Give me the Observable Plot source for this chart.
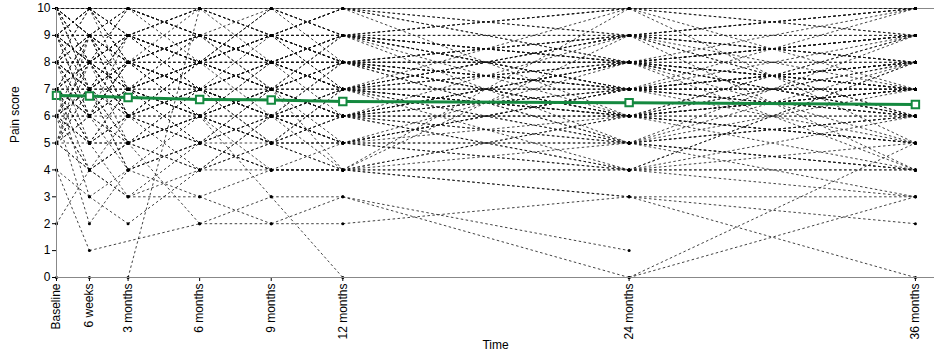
<!DOCTYPE html>
<html><head><meta charset="utf-8">
<script src="https://cdn.jsdelivr.net/npm/d3@7"></script>
<script src="https://cdn.jsdelivr.net/npm/@observablehq/plot@0.6"></script>
<style>body{margin:0;background:#fff;}</style>
</head><body><div id="chart"></div>
<script>
const timeLabels = ["Baseline", "6 weeks", "3 months", "6 months", "9 months", "12 months", "24 months", "36 months"];
const timeMonths = [0, 1.38, 3, 6, 9, 12, 24, 36];
const yTicks = [0, 1, 2, 3, 4, 5, 6, 7, 8, 9, 10];

// individual patient scores, one array per time point (null = missing)
const baseline = [10,10,9,9,8,8,7,7,6,6, 5,5,4,2,10,9,8,7,7,6, 10,8,9,7,6,0,5,9,7,8, 6,5,10,9,8,7,6,10,8,9, 7,6,5,10,9,8,7,6,4,10, 9,8,7,6,5,9,8,7,10,6,
                  9,8,7,6,10,9,8,7,6,5, 10,9,8,7,6,5,10,9,8,7, 8,9,7,6,10,8,7,9,6,5, 10,8,9,7,6,8,10,7,9,8];
const week6    = [9,10,8,10,7,9,6,8,7,5, 4,6,1,4,8,9,10,5,7,8, 7,6,10,3,2,0,9,6,9,8, 7,8,10,7,5,4,6,9,7,8, 8,9,7,10,9,6,7,5,3,9, 8,9,6,8,5,10,8,5,7,4,
                  8,9,6,7,9,7,8,9,5,6, 8,10,7,8,4,7,10,8,6,7, 9,8,5,8,9,10,6,9,7,4, 8,7,10,9,6,8,9,8,6,7];
const month3   = [10,9,7,8,9,8,7,6,8,6, 5,4,null,3,9,7,10,6,8,5, 8,7,9,2,4,0,6,5,9,10, 7,6,8,6,3,5,7,9,8,7, 9,8,7,10,9,6,4,5,4,8, 9,7,8,7,5,10,6,7,9,3,
                  9,8,5,6,10,8,7,8,7,8, 7,9,9,6,5,4,9,10,8,7, 6,8,6,9,7,8,9,8,5,6, 8,5,7,10,8,9,6,7,7,8];
const month6   = [9,10,8,9,8,7,8,7,6,7, 6,5,2,4,10,8,9,5,7,6, 9,6,8,4,3,10,5,7,10,8, 9,4,7,6,5,2,8,8,6,7, 8,7,6,10,9,5,6,7,5,8, 9,6,8,5,4,9,8,7,7,3,
                  8,9,6,8,9,7,6,9,6,7, 8,10,7,7,6,5,8,9,9,6, 7,7,8,8,9,6,8,7,4,6, 10,6,8,9,9,7,7,5,8,8];
const month9   = [10,9,9,8,10,8,7,8,7,6, 5,6,3,5,10,9,8,4,7,7, 9,5,7,5,4,9,6,8,9,7, 8,6,6,7,4,2,9,10,3,6, 8,6,5,9,8,7,7,5,4,8, 9,6,7,5,4,8,9,6,8,2,
                  7,8,7,8,9,6,8,9,5,6, 9,10,8,5,6,7,9,7,9,8, 6,7,7,9,8,7,6,9,6,5, 8,4,9,8,7,8,6,6,10,7];
const month12  = [10,10,9,9,8,8,8,7,7,6, 6,5,3,4,9,8,9,4,7,6, 10,5,8,6,4,8,7,7,9,6, 8,5,7,6,4,3,8,9,0,6, 7,6,7,9,8,8,7,5,4,9, 10,6,8,5,4,8,9,7,7,2,
                  6,9,8,7,8,5,9,7,6,4, 10,9,6,7,5,6,8,9,7,8, 5,6,9,8,7,6,8,10,7,4, 7,5,8,9,5,7,6,8,9,4];
const month24  = [6,9,5,8,8,7,8,7,6,7, 9,5,1,10,10,9,8,3,4,6, 9,4,8,5,4,7,6,7,8,7, 8,8,6,5,4,0,9,9,0,6, 7,7,8,10,8,9,10,5,3,9, 10,6,7,4,9,7,8,8,9,3,
                  8,7,6,9,6,7,10,5,8,6, 8,7,4,9,7,8,6,8,6,5, 7,8,7,6,5,4,9,8,6,5, 8,7,5,7,6,9,8,7,6,6];
const month36  = [9,10,8,4,7,10,6,7,5,6, 4,9,null,7,10,8,9,2,8,5, 8,8,7,6,4,6,7,6,9,8, 7,10,6,4,3,5,10,9,3,6, 7,8,8,9,5,9,5,4,0,10, 10,7,7,4,6,7,8,9,8,3,
                  9,6,7,8,5,8,9,6,7,9, 7,8,6,10,8,6,7,6,5,7, 9,7,8,4,6,5,7,9,8,3, 6,7,4,8,7,6,9,5,7,8];

// mean pain score per time point
const meanScore = [6.77, 6.75, 6.69, 6.62, 6.60, 6.54, 6.50, 6.43];

const columns = [baseline, week6, month3, month6, month9, month12, month24, month36];
const points = [];
const segments = [];
for (let i = 0; i < baseline.length; i++) {
  let prev = null;
  for (let t = 0; t < columns.length; t++) {
    const v = columns[t][i];
    if (v == null) continue;
    const p = {id: i, x: timeMonths[t], y: v};
    points.push(p);
    if (prev) segments.push({x1: prev.x, y1: prev.y, x2: p.x, y2: p.y});
    prev = p;
  }
}
const means = timeMonths.map((x, t) => ({x, y: meanScore[t]}));
const green = "#14893f";

const plot = Plot.plot({
  width: 934, height: 360,
  marginLeft: 56, marginRight: 0, marginTop: 8, marginBottom: 83,
  style: {fontFamily: "Liberation Sans, Arial, sans-serif", fontSize: "12px", color: "#000", background: "#fff", overflow: "visible"},
  x: {domain: [0, 36.8]},
  y: {domain: [0, 10]},
  marks: [
    Plot.ruleY([10], {stroke: "#888", strokeWidth: 1}),
    Plot.link(segments, {x1: "x1", y1: "y1", x2: "x2", y2: "y2", stroke: "#111", strokeWidth: 0.8, strokeDasharray: "2.5,2.5"}),
    Plot.dot(points, {x: "x", y: "y", r: 1.5, fill: "#000"}),
    Plot.line(means, {x: "x", y: "y", stroke: green, strokeWidth: 3}),
    Plot.dot(means, {x: "x", y: "y", symbol: "square", r: 4.2, fill: "#fff", stroke: green, strokeWidth: 2}),
    Plot.axisY({ticks: yTicks, tickSize: 4, tickPadding: 2, label: null, fontSize: 12}),
    Plot.axisX({ticks: timeMonths, tickFormat: d => timeLabels[timeMonths.indexOf(d)], tickRotate: -90, tickSize: 4, tickPadding: 2, label: null, fontSize: 12}),
    Plot.ruleY([0], {stroke: "#888", strokeWidth: 1}),
    Plot.ruleX([0], {stroke: "#888", strokeWidth: 1}),
    Plot.text([{t: "Pain score"}], {text: "t", frameAnchor: "left", rotate: -90, dx: -41, fontSize: 12}),
    Plot.text([{t: "Time"}], {text: "t", frameAnchor: "bottom", dy: 71, fontSize: 12})
  ]
});
document.getElementById("chart").appendChild(plot);
</script>
</body></html>
